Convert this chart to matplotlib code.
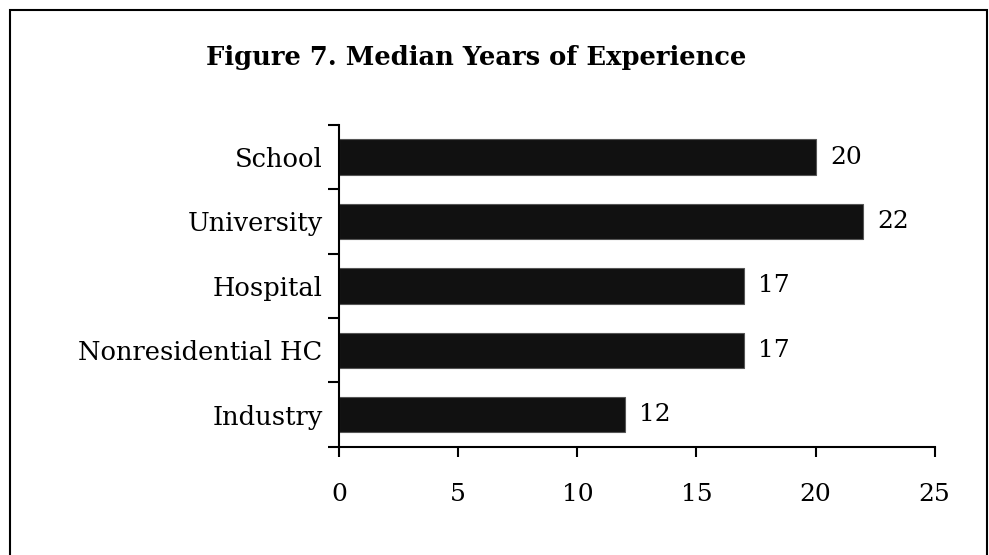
import matplotlib.pyplot as plt
from matplotlib.patches import Rectangle
from matplotlib.ticker import FixedLocator

categories = ['School', 'University', 'Hospital', 'Nonresidential HC', 'Industry']
years = [20, 22, 17, 17, 12]
x_ticks = [0, 5, 10, 15, 20, 25]

plt.rcParams['font.family'] = ['DejaVu Serif']

fig = plt.figure(figsize=(9.89, 5.55), dpi=100)
ax = fig.add_axes([0.343, 0.195, 0.602, 0.58])

pos = list(range(len(categories)))
ax.barh(pos, years, height=0.55, color='#111111', edgecolor='#555555', linewidth=0.8)
for p, v in zip(pos, years):
    ax.text(v + 0.6, p, str(v), va='center', ha='left', fontsize=18)

ax.set_ylim(len(categories) - 0.5, -0.5)
ax.set_xlim(0, 25)
ax.set_yticks(pos)
ax.set_yticklabels(categories, fontsize=18.5)
ax.yaxis.set_minor_locator(FixedLocator([i - 0.5 for i in range(len(categories) + 1)]))
ax.tick_params(axis='y', which='major', length=0, pad=12)
ax.tick_params(axis='y', which='minor', length=8, width=1.5, direction='out')
ax.set_xticks(x_ticks)
ax.tick_params(axis='x', length=7, width=1.5, direction='out', labelsize=18, pad=19)

for s in ['top', 'right']:
    ax.spines[s].set_visible(False)
for s in ['left', 'bottom']:
    ax.spines[s].set_linewidth(1.5)

fig.text(0.481, 0.897, 'Figure 7. Median Years of Experience', ha='center', va='center',
         fontsize=18.5, fontweight='bold')

fig.patches.append(Rectangle((10 / 989, -0.01), 977 / 989, 1 - 10 / 555 + 0.01,
                             transform=fig.transFigure, fill=False,
                             edgecolor='black', linewidth=1.5))

fig.savefig('out.png', dpi=100)
